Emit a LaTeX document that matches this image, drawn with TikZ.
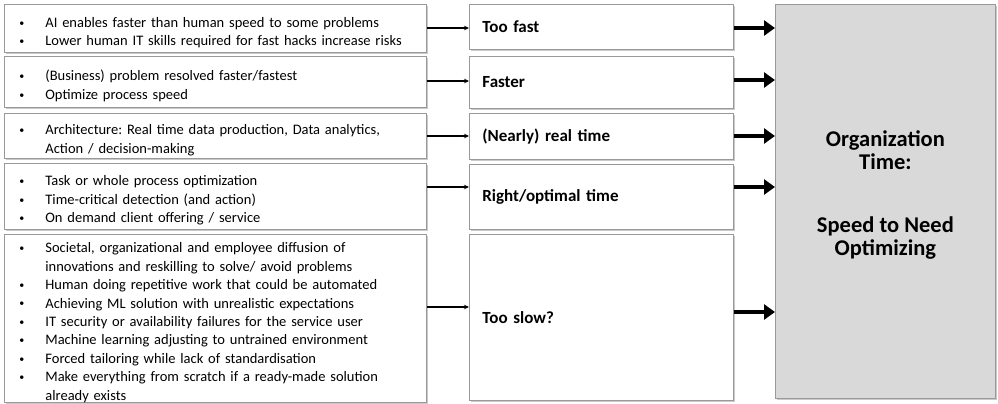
\documentclass[tikz,border=0pt]{standalone}
\usepackage{fontspec}
\setmainfont{Carlito}
\usetikzlibrary{arrows.meta,shadows}
\frenchspacing
\newcommand{\bitem}[1]{\par\hyphenpenalty=10000 \exhyphenpenalty=10000 \hangindent=24pt\hangafter=1\noindent\makebox[24pt][l]{\hspace*{-2pt}\raisebox{0.15ex}{\fontsize{10}{10}\selectfont\textbullet}}#1\par}
\begin{document}
\begin{tikzpicture}[x=1pt,y=-1pt,
  box/.style={draw=black!40,line width=0.8pt,fill=white,anchor=north west,inner sep=0pt,
    drop shadow={shadow xshift=1.5pt,shadow yshift=-1.5pt,fill=black!35,opacity=0.6}},
  leftbox/.style={box,minimum width=422pt,text width=388pt,align=left,
    font=\fontsize{14.5}{18.4}\selectfont},
  midbox/.style={box,minimum width=264pt,text width=238pt,align=left,
    font=\fontsize{17}{20}\selectfont\bfseries},
  thin/.style={-{Stealth[length=5pt,width=4.5pt]},line width=1.3pt},
  thick/.style={-{Triangle[length=11pt,width=15pt]},line width=4.5pt}]
\useasboundingbox (0,0) rectangle (998,404);
\node[leftbox,minimum height=48pt] (L1) at (4,4) {\bitem{AI enables faster than human speed to some problems}\bitem{Lower human IT skills required for fast hacks increase risks}};
\node[leftbox,minimum height=51pt] (L2) at (4,56) {\bitem{(Business) problem resolved faster/fastest}\bitem{Optimize process speed}};
\node[leftbox,minimum height=45pt] (L3) at (4,113) {\bitem{Architecture: Real time data production, Data analytics, Action / decision-making}};
\node[leftbox,minimum height=66pt] (L4) at (4,163) {\bitem{Task or whole process optimization}\bitem{Time-critical detection (and action)}\bitem{On demand client offering / service}};
\node[leftbox,minimum height=166pt] (L5) at (4,234) {\bitem{Societal, organizational and employee diffusion of innovations and reskilling to solve/ avoid problems}\bitem{Human doing repetitive work that could be automated}\bitem{Achieving ML solution with unrealistic expectations}\bitem{IT security or availability failures for the service user}\bitem{Machine learning adjusting to untrained environment}\bitem{Forced tailoring while lack of standardisation}\bitem{Make everything from scratch if a ready-made solution already exists}};
\node[midbox,minimum height=45pt] (M1) at (469,4) {Too fast};
\node[midbox,minimum height=52pt] (M2) at (469,56) {Faster};
\node[midbox,minimum height=46pt] (M3) at (469,113) {(Nearly) real time};
\node[midbox,minimum height=65pt] (M4) at (469,164) {Right/optimal time};
\node[midbox,minimum height=166pt] (M5) at (469,234) {Too slow?};
\node[box,fill=black!15,minimum width=220pt,minimum height=394pt] (R) at (775,4) {};
\node[align=center,font=\fontsize{22.5}{23}\selectfont\bfseries] (Rt) at ([xshift=0pt,yshift=6pt]R.center)
  {Organization\\Time:\\[40pt]Speed to Need\\Optimizing};
\draw[thin] (L1.east |- 0,28) -- (M1.west |- 0,28);
\draw[thin] (L2.east |- 0,81) -- (M2.west |- 0,81);
\draw[thin] (L3.east |- 0,136) -- (M3.west |- 0,136);
\draw[thin] (L4.east |- 0,187) -- (M4.west |- 0,187);
\draw[thin] (L5.east |- 0,307) -- (M5.west |- 0,307);
\draw[thick] (M1.east |- 0,28) -- (R.west |- 0,28);
\draw[thick] (M2.east |- 0,80) -- (R.west |- 0,80);
\draw[thick] (M3.east |- 0,136) -- (R.west |- 0,136);
\draw[thick] (M4.east |- 0,187) -- (R.west |- 0,187);
\draw[thick] (M5.east |- 0,312) -- (R.west |- 0,312);
\end{tikzpicture}
\end{document}
